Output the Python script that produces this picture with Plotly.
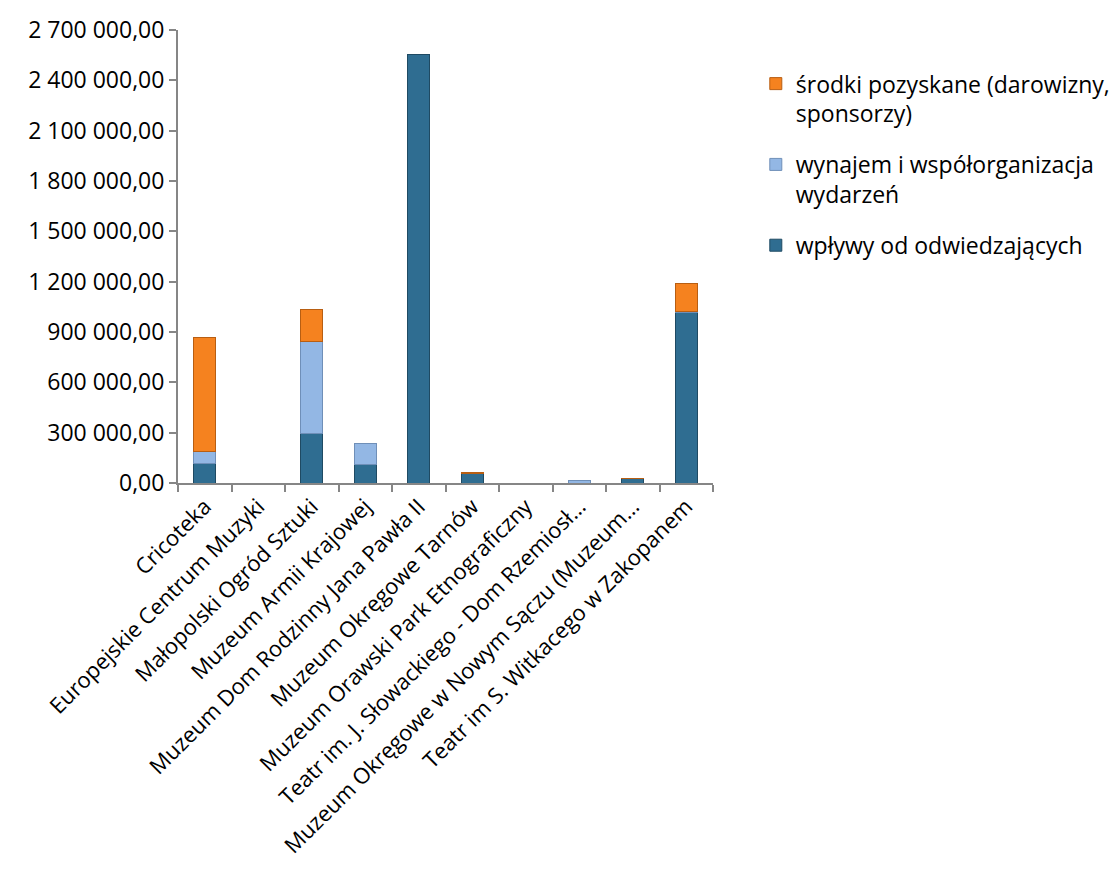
import plotly.graph_objects as go

categories = [
    "Cricoteka",
    "Europejskie Centrum Muzyki",
    "Małopolski Ogród Sztuki",
    "Muzeum Armii Krajowej",
    "Muzeum Dom Rodzinny Jana Pawła II",
    "Muzeum Okręgowe Tarnów",
    "Muzeum Orawski Park Etnograficzny",
    "Teatr im. J. Słowackiego - Dom Rzemiosł…",
    "Muzeum Okręgowe w Nowym Sączu (Muzeum…",
    "Teatr im S. Witkacego w Zakopanem",
]

wplywy = [119000, 0, 298000, 109000, 2556000, 56000, 0, 0, 24000, 1017000]
wynajem = [69000, 0, 546000, 129000, 0, 0, 0, 15000, 0, 8000]
srodki = [680000, 0, 193000, 0, 0, 4000, 0, 0, 3000, 167000]

series_names = [
    "wpływy od odwiedzających",
    "wynajem i współorganizacja<br>wydarzeń",
    "środki pozyskane (darowizny,<br>sponsorzy)",
]
series_colors = ["#2F6D91", "#93B7E4", "#F5821F"]
line_colors = ["#1F4A63", "#6F8FB8", "#B85E12"]
legend_ranks = [3, 2, 1]

y_ticks = [0, 300000, 600000, 900000, 1200000, 1500000, 1800000, 2100000, 2400000, 2700000]
y_ticktext = ["0,00", "300 000,00", "600 000,00", "900 000,00", "1 200 000,00",
              "1 500 000,00", "1 800 000,00", "2 100 000,00", "2 400 000,00", "2 700 000,00"]

FONT = "Open Sans"
FS = 23

fig = go.Figure()
for i, (vals, name, col, lc) in enumerate(zip([wplywy, wynajem, srodki], series_names, series_colors, line_colors)):
    fig.add_trace(go.Bar(
        x=categories, y=[v if v else None for v in vals], name=name,
        legendgroup=f"g{i}", legendrank=legend_ranks[i],
        marker=dict(color=col, line=dict(color=lc, width=1)),
    ))

fig.update_layout(
    width=1120, height=874,
    barmode="stack",
    bargap=0.59,
    plot_bgcolor="white",
    paper_bgcolor="white",
    margin=dict(l=170, r=410, t=22, b=399),
    font=dict(family=FONT, size=FS, color="#000000"),
    showlegend=True,
    legend=dict(
        x=1.08, y=0.929, xanchor="left", yanchor="top",
        traceorder="grouped",
        valign="top",
        font=dict(family=FONT, size=FS, color="#000000"),
        tracegroupgap=18,
        itemwidth=30,
    ),
)

fig.update_xaxes(
    type="category", automargin=False,
    showline=True, linecolor="#868686", linewidth=2,
    ticks="outside", tickson="boundaries", ticklen=7, tickcolor="#868686", tickwidth=2,
    tickangle=-45,
    tickfont=dict(family=FONT, size=22, color="#000000"),
    showgrid=False,
)

fig.update_yaxes(
    range=[0, 2700000], automargin=False,
    tickvals=y_ticks, ticktext=y_ticktext,
    showline=True, linecolor="#868686", linewidth=2,
    ticks="outside", ticklen=7, tickcolor="#868686", tickwidth=2,
    tickfont=dict(family=FONT, size=FS, color="#000000"),
    showgrid=False, zeroline=False,
)

fig.write_html("out.html")
